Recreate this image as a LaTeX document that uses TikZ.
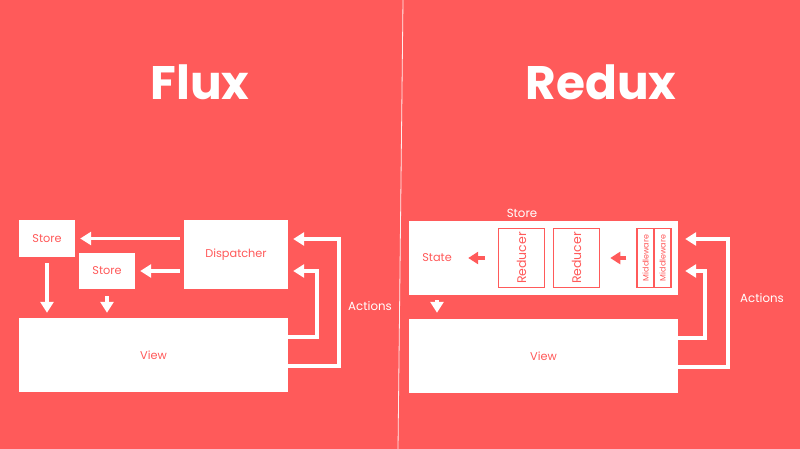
\documentclass[tikz,border=0pt]{standalone}
\usepackage{fontspec}
\setmainfont{Poppins}
\usetikzlibrary{arrows.meta}
\definecolor{bg}{HTML}{FF5A5A}
\begin{document}
\begin{tikzpicture}[x=1pt,y=-1pt,
  box/.style={fill=white,draw=none,text=bg,inner sep=0pt,font=\fontsize{11.3}{13}\selectfont},
  inbox/.style={fill=white,draw=bg,line width=1.5pt,text=bg,inner sep=0pt},
  wtext/.style={text=white,inner sep=0pt,font=\fontsize{11.8}{13}\selectfont},
  title/.style={text=white,inner sep=0pt,font=\fontsize{47}{52}\selectfont\bfseries},
  warrow/.style={draw=white,line width=3.5pt,line join=miter,-{Triangle[length=11pt,width=13pt]}},
  rarrow/.style={draw=bg,line width=4pt,-{Triangle[length=10pt,width=12pt]}}]
\fill[bg] (0,0) rectangle (800,449);
\useasboundingbox (0,0) rectangle (800,449);
\draw[white,line width=0.8pt,opacity=0.9] (403,0) -- (398,449);

% titles
\node[title] (tflux) at (200,82) {Flux};
\node[title] (tredux) at (601,82) {Redux};

% ---- Flux ----
\node[box,minimum width=56pt,minimum height=37pt] (s1) at (47,238.5) {Store};
\node[box,minimum width=56pt,minimum height=36pt] (s2) at (107,271) {Store};
\node[box,minimum width=104pt,minimum height=69pt] (disp) at (236,254.5) {Dispatcher};
\node[box,minimum width=269pt,minimum height=74pt] (vl) at (153.5,355) {View};
\node[wtext] (actl) at (370,306) {Actions};

\draw[warrow,shorten <=4pt,shorten >=5pt] (disp.west |- s1) -- (s1.east);
\draw[warrow,shorten <=4pt,shorten >=5pt] (disp.west |- s2) -- (s2.east);
\draw[warrow,shorten <=6pt,shorten >=5pt] (s1.south) -- (s1.south |- vl.north);
\draw[warrow,shorten <=7pt,shorten >=5pt] (s2.south) -- (s2.south |- vl.north);
\coordinate (li1) at (317,337);
\coordinate (li2) at (317,271);
\coordinate (lo1) at (339,366);
\coordinate (lo2) at (339,239);
\draw[warrow,shorten >=5pt] (vl.east |- li1) -- (li1) -- (li2) -- (disp.east |- li2);
\draw[warrow,shorten >=5pt] (vl.east |- lo1) -- (lo1) -- (lo2) -- (disp.east |- lo2);

% ---- Redux ----
\node[box,minimum width=269pt,minimum height=74pt] (sr) at (543.5,258) {};
\node[wtext] (storelbl) at (522,213) {Store};
\node[box,minimum width=30pt] (state) at (437,258) {State};
\node[inbox,minimum width=46pt,minimum height=59pt] (r1) at (521.5,258) {};
\node[text=bg,rotate=90,font=\fontsize{12.5}{14}\selectfont] (r1t) at (r1) {Reducer};
\node[inbox,minimum width=46pt,minimum height=59pt] (r2) at (576.5,258) {};
\node[text=bg,rotate=90,font=\fontsize{12.5}{14}\selectfont] (r2t) at (r2) {Reducer};
\node[inbox,minimum width=17pt,minimum height=59pt] (m1) at (645.5,258) {};
\node[text=bg,rotate=90,font=\fontsize{8}{9}\selectfont] (m1t) at (m1) {Middleware};
\node[inbox,minimum width=17pt,minimum height=59pt] (m2) at (662.5,258) {};
\node[text=bg,rotate=90,font=\fontsize{8}{9}\selectfont] (m2t) at (m2) {Middleware};
\node[box,minimum width=269pt,minimum height=74pt] (vr) at (543.5,356) {View};
\node[wtext] (actr) at (762,298) {Actions};

\draw[rarrow,shorten <=13pt,shorten >=16pt] (r1.west) -- (state.east);
\draw[rarrow,shorten <=10pt,shorten >=10pt] (m1.west) -- (r2.east);
\draw[warrow,shorten <=5pt,shorten >=6pt] (state |- sr.south) -- (state |- vr.north);
\coordinate (ri1) at (705,338);
\coordinate (ri2) at (705,271);
\coordinate (ro1) at (728,367);
\coordinate (ro2) at (728,239);
\draw[warrow,shorten >=7pt] (vr.east |- ri1) -- (ri1) -- (ri2) -- (sr.east |- ri2);
\draw[warrow,shorten >=7pt] (vr.east |- ro1) -- (ro1) -- (ro2) -- (sr.east |- ro2);
\end{tikzpicture}
\end{document}
